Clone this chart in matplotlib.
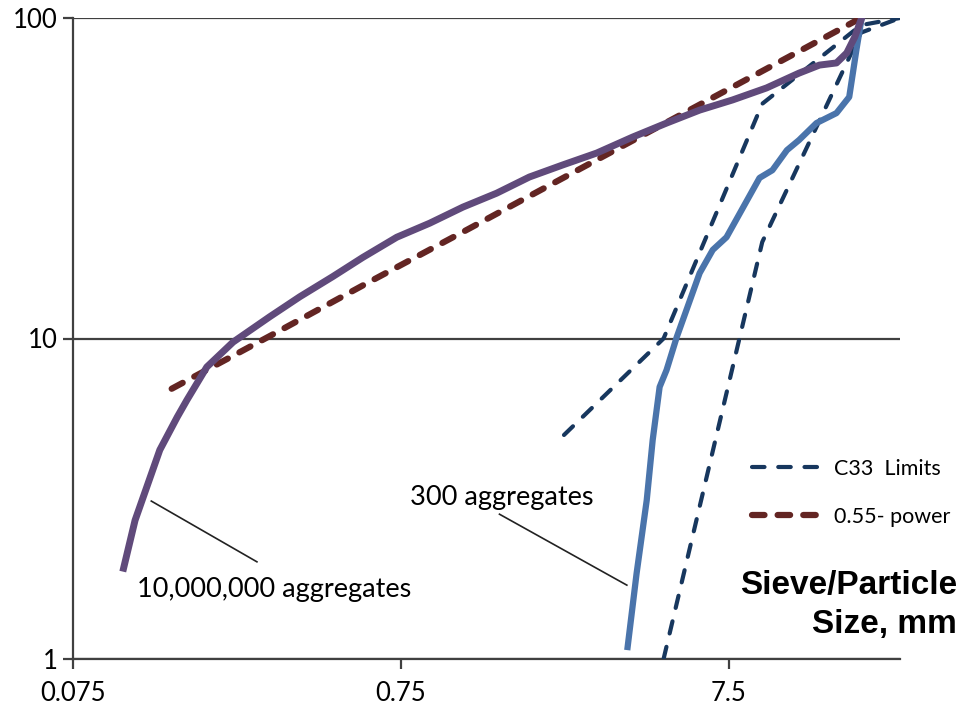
import matplotlib
matplotlib.use("Agg")
import matplotlib.pyplot as plt
from matplotlib.ticker import NullLocator, FixedLocator, FixedFormatter

plt.rcParams["font.family"] = ["Lato", "DejaVu Sans"]

# sieve size (mm) vs percent passing
d_10m = [0.107, 0.116, 0.138, 0.156, 0.167, 0.192, 0.231, 0.299, 0.369, 0.465,
         0.574, 0.729, 0.919, 1.16, 1.47, 1.85, 2.34, 2.97, 3.82, 4.85,
         6.12, 7.71, 9.79, 12.3, 14.2, 16.0, 17.2, 18.2, 19.1]
p_10m = [1.92, 2.71, 4.49, 5.69, 6.43, 8.15, 9.75, 11.7, 13.5, 15.6,
         17.9, 20.7, 22.9, 25.7, 28.4, 31.9, 34.8, 37.9, 42.5, 47.0,
         51.6, 55.5, 60.5, 67.3, 71.3, 72.4, 77.8, 87.3, 100.0]

d_300 = [3.69, 3.93, 4.22, 4.40, 4.62, 4.85, 5.21, 6.12, 6.71, 7.39,
         9.32, 10.2, 11.3, 12.3, 13.9, 16.0, 17.5, 18.4, 19.1]
p_300 = [1.09, 1.85, 3.13, 4.82, 7.06, 7.97, 10.1, 16.0, 18.9, 20.7,
         31.7, 33.5, 38.7, 41.6, 47.0, 50.5, 56.7, 79.4, 100.0]

# C33 grading limits
d_c33_up = [2.36, 4.75, 9.5, 19.0, 25.0]
p_c33_up = [5.0, 10.0, 54.0, 95.0, 100.0]
d_c33_lo = [4.75, 9.5, 19.0, 25.0]
p_c33_lo = [1.0, 20.0, 90.0, 100.0]

# 0.55 power curve, 19 mm max size
d_pow = [0.15, 0.3, 0.6, 1.18, 2.36, 4.75, 9.5, 12.5, 19.0]
p_pow = [6.97, 10.2, 15.0, 21.7, 31.8, 46.7, 68.3, 79.4, 100.0]

xticks = [0.075, 0.75, 7.5]
xlabels = ["0.075", "0.75", "7.5"]
yticks = [1, 10, 100]
ylabels = ["1", "10", "100"]

c_purple = "#604a7b"
c_blue = "#4a74ab"
c_navy = "#17375e"
c_red = "#632523"

fig = plt.figure(figsize=(9.73, 7.08), dpi=100)
ax = fig.add_axes([73/973, 49/708, 827/973, 641/708])
ax.set_xscale("log")
ax.set_yscale("log")
ax.set_xlim(0.075, 25)
ax.set_ylim(1, 100)

ax.plot(d_c33_up, p_c33_up, color=c_navy, lw=3, dashes=(3.0, 3.3),
        dash_capstyle="round", label="C33  Limits", zorder=3)
ax.plot(d_c33_lo, p_c33_lo, color=c_navy, lw=3, dashes=(3.0, 3.3),
        dash_capstyle="round", zorder=3)
ax.plot(d_pow, p_pow, color=c_red, lw=4.5, dashes=(2.0, 2.1),
        dash_capstyle="round", label="0.55- power", zorder=3)
ax.plot(d_300, p_300, color=c_blue, lw=4.5, solid_joinstyle="round", zorder=4)
ax.plot(d_10m, p_10m, color=c_purple, lw=5, solid_joinstyle="round", zorder=5)

# axes and grid
for s in ["top", "right"]:
    ax.spines[s].set_visible(False)
for s in ["left", "bottom"]:
    ax.spines[s].set_color("#404040")
    ax.spines[s].set_linewidth(1.6)
ax.yaxis.grid(True, which="major", color="#404040", lw=1.6)
ax.set_axisbelow(True)

ax.xaxis.set_major_locator(FixedLocator(xticks))
ax.xaxis.set_major_formatter(FixedFormatter(xlabels))
ax.yaxis.set_major_locator(FixedLocator(yticks))
ax.yaxis.set_major_formatter(FixedFormatter(ylabels))
ax.xaxis.set_minor_locator(NullLocator())
ax.yaxis.set_minor_locator(NullLocator())
ax.tick_params(axis="both", direction="out", length=7, width=1.6,
               color="#404040", labelsize=18.5)
ax.tick_params(axis="x", pad=9)
ax.tick_params(axis="y", pad=4)

# labels with leader lines
ax.plot([0.130, 0.273], [3.11, 2.01], color="#222222", lw=1.2, zorder=6)
ax.text(0.1175, 1.65, "10,000,000 aggregates", fontsize=19.5, va="center", ha="left")
ax.plot([1.50, 3.67], [2.83, 1.70], color="#222222", lw=1.2, zorder=6)
ax.text(0.80, 3.20, "300 aggregates", fontsize=19.5, va="center", ha="left")

leg = ax.legend(loc="center left", bbox_to_anchor=(752/973, 1 - 493/708),
                bbox_transform=fig.transFigure, frameon=False, fontsize=15.5,
                handlelength=3.3, handletextpad=0.5, labelspacing=1.3,
                borderpad=0, borderaxespad=0)

fig.text(957/973, 1 - 605/708, "Sieve/Particle\nSize, mm", ha="right", va="center",
         fontsize=24, fontweight="bold", family="Liberation Sans",
         linespacing=1.32)

fig.savefig("out.png", dpi=100)
